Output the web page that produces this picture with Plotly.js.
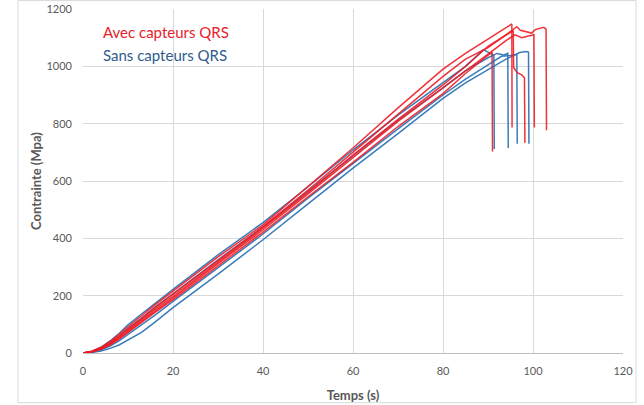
<!DOCTYPE html>
<html>
<head>
<meta charset="utf-8">
<script src="https://cdn.plot.ly/plotly-3.0.1.min.js"></script>
<style>html,body{margin:0;padding:0;background:#fff;}#chart{width:644px;height:405px;}</style>
</head>
<body>
<div id="chart"></div>
<script>
// Avec capteurs QRS (red)
const avec1T = [0,2,4,6,8,10,13,16,20,30,40,50,60,70,80,85,90,95.3,95.35];
const avec1S = [0,6,20,40,65,92,130,168,215,335,447,580,715,855,990,1045,1095,1148,787];
const avec2T = [0,2,4,6,8,10,13,16,20,30,40,50,60,70,80,85,90,94,96.4,97.2,98.5,99.7,100.5,102.4,102.9,103.0];
const avec2S = [0,5,17,35,58,84,120,158,205,325,440,568,700,835,965,1025,1065,1110,1138,1126,1122,1116,1128,1136,1130,777];
const avec3T = [0,2,4,6,8,10,13,16,20,30,40,50,60,70,80,85,90,95.6,95.7,96.5,97.5,98.1,98.2];
const avec3S = [0,5,16,33,55,80,115,152,198,318,436,560,690,815,935,1000,1070,1125,995,978,970,960,733];
const avec4T = [0,2,4,6,8,10,13,16,20,30,40,50,60,70,80,85,90,94,96,97.5,99,100.2,100.3];
const avec4S = [0,4,14,30,50,75,110,146,192,312,430,555,682,808,925,985,1045,1090,1110,1100,1106,1110,787];
const avec5T = [0,2,4,6,8,10,13,16,20,30,40,50,60,70,80,85,90,90.9,91.0];
const avec5S = [0,4,13,28,48,72,106,142,186,305,422,545,665,790,905,975,1040,1050,703];
// Sans capteurs QRS (blue)
const sans1T = [0,2,4,6,8,10,13,16,20,30,40,50,60,70,80,85,89,90.4,91.3,91.4];
const sans1S = [0,6,20,42,68,98,136,174,222,342,455,580,708,830,942,1000,1058,1047,1038,712];
const sans2T = [0,2,4,6,8,10,13,16,20,30,40,50,60,70,80,85,90,92,93.5,94.4,94.5];
const sans2S = [0,5,17,35,58,85,122,160,206,325,440,565,690,812,925,985,1030,1045,1040,1045,715];
const sans3T = [0,2,4,6,8,10,13,16,20,30,40,50,60,70,80,85,90,93,95,96.4,96.5];
const sans3S = [0,3,11,24,42,64,96,132,180,298,415,540,662,782,900,955,1005,1035,1038,1042,730];
const sans4T = [0,2,4,6,8,10,13,16,20,30,40,50,60,70,80,85,90,94,96,97,98.5,99,99.1];
const sans4S = [0,2,7,16,28,45,72,108,158,275,395,520,645,765,888,942,988,1025,1040,1048,1052,1050,730];

const yTicks = [0,200,400,600,800,1000,1200];
const xTicks = [0,20,40,60,80,100,120];
const legendLabels = ["Avec capteurs QRS","Sans capteurs QRS"];

const RED = "rgba(238,28,37,0.9)";
const BLUE = "rgba(46,117,182,0.95)";
function tr(x,y,c){return {x:x,y:y,type:"scatter",mode:"lines",line:{color:c,width:1.5},hoverinfo:"skip",showlegend:false};}

const data = [
  tr(sans4T,sans4S,BLUE), tr(sans3T,sans3S,BLUE), tr(sans2T,sans2S,BLUE), tr(sans1T,sans1S,BLUE),
  tr(avec5T,avec5S,RED), tr(avec4T,avec4S,RED), tr(avec3T,avec3S,RED), tr(avec2T,avec2S,RED), tr(avec1T,avec1S,RED)
];

const tickFont = {family:"Lato, 'Open Sans', sans-serif", size:11, color:"#595959"};
const titleFont = {family:"Lato, 'Open Sans', sans-serif", size:13, color:"#595959", weight:"bold"};

const layout = {
  width:644, height:405,
  margin:{l:83, r:21, t:9.4, b:51.7, pad:0},
  paper_bgcolor:"#ffffff", plot_bgcolor:"#ffffff",
  showlegend:false,
  xaxis:{range:[0,120], tickvals:xTicks, ticktext:xTicks.map(String), showgrid:true, gridcolor:"#d9d9d9", gridwidth:1,
         zeroline:false, showline:true, linecolor:"#bfbfbf", linewidth:1, ticks:"", tickfont:tickFont, ticklabelstandoff:8,
         title:{text:"<b>Temps (s)</b>", font:titleFont, standoff:14}},
  yaxis:{range:[0,1200], tickvals:yTicks, ticktext:yTicks.map(String), showgrid:true, gridcolor:"#d9d9d9", gridwidth:1,
         zeroline:false, showline:false, ticks:"", tickfont:tickFont, ticklabelstandoff:10,
         title:{text:"<b>Contrainte (Mpa)</b>", font:titleFont, standoff:1}},
  annotations:[
    {xref:"paper", yref:"paper", x:(101-83)/540, y:(353.3-32)/343.9, xanchor:"left", yanchor:"middle", showarrow:false,
     text:legendLabels[0], font:{family:"Lato, 'Open Sans', sans-serif", size:15, color:"#e8202a"}},
    {xref:"paper", yref:"paper", x:(101-83)/540, y:(353.3-55)/343.9, xanchor:"left", yanchor:"middle", showarrow:false,
     text:legendLabels[1], font:{family:"Lato, 'Open Sans', sans-serif", size:15, color:"#2f5b8c"}}
  ],
  shapes:[
    {type:"rect", xref:"paper", yref:"paper", x0:(18-83)/540, x1:(636-83)/540, y0:(353.3-403)/343.9, y1:(353.3-1)/343.9,
     line:{color:"#d9d9d9", width:1}, fillcolor:"rgba(0,0,0,0)", layer:"below"}
  ]
};

Plotly.newPlot("chart", data, layout, {staticPlot:true, displayModeBar:false});
</script>
</body>
</html>
